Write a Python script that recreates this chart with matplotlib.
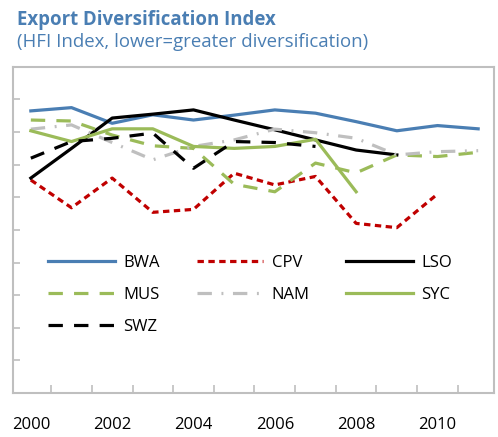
import numpy as np
import matplotlib.pyplot as plt

years = list(range(2000, 2012))
year_labels = ['2000', '', '2002', '', '2004', '', '2006', '', '2008', '', '2010', '']

# HFI index (None = no data)
bwa = [0.865, 0.875, 0.827, 0.853, 0.837, 0.852, 0.868, 0.858, 0.832, 0.804, 0.820, 0.810]
cpv = [0.653, 0.568, 0.659, 0.554, 0.563, 0.674, 0.638, 0.664, 0.520, 0.507, 0.610, None]
lso = [0.659, 0.750, 0.843, 0.855, 0.868, 0.837, 0.807, 0.776, 0.745, 0.730, None, None]
mus = [0.837, 0.834, 0.791, 0.758, 0.750, 0.640, 0.617, 0.705, 0.675, 0.730, 0.725, 0.738]
nam = [0.809, 0.822, 0.768, 0.715, 0.756, 0.776, 0.809, 0.798, 0.781, 0.730, 0.740, 0.743]
syc = [0.804, 0.771, 0.810, 0.810, 0.756, 0.750, 0.756, 0.778, 0.617, None, None, None]
swz = [0.720, 0.771, 0.781, 0.797, 0.689, 0.771, 0.768, 0.756, None, None, None, None]

blue = '#4a7eb3'
green = '#9bbb59'

plt.rcParams['font.family'] = ['Open Sans', 'DejaVu Sans']

fig = plt.figure(figsize=(4.98, 4.37), dpi=100)
ax = fig.add_axes([0.026, 0.1007, 0.966, 0.7463])

x = np.arange(len(years))


def arr(v):
    return np.array([np.nan if a is None else a for a in v], dtype=float)


lw = 2.3
lines = {}
lines['BWA'], = ax.plot(x, arr(bwa), color=blue, lw=lw, label='BWA')
lines['CPV'], = ax.plot(x, arr(cpv), color='#c00000', lw=lw, dashes=(2.0, 1.4), label='CPV')
lines['LSO'], = ax.plot(x, arr(lso), color='black', lw=lw, label='LSO')
lines['MUS'], = ax.plot(x, arr(mus), color=green, lw=lw, dashes=(4.5, 3.5), label='MUS')
lines['NAM'], = ax.plot(x, arr(nam), color='#bfbfbf', lw=lw, dashes=(4.5, 3, 0.6, 3), label='NAM')
lines['SYC'], = ax.plot(x, arr(syc), color=green, lw=lw, label='SYC')
lines['SWZ'], = ax.plot(x, arr(swz), color='black', lw=lw, dashes=(4.5, 3.5), label='SWZ')

ax.set_xlim(-0.44, 11.39)
ax.set_ylim(0, 1)

# y ticks without labels
ax.set_yticks(np.arange(0, 1.01, 0.1))
ax.set_yticklabels([])
ax.tick_params(axis='y', direction='in', length=5, width=1.2, color='#bfbfbf')

# year labels at category centres, tick marks between categories
ax.set_xticks(x)
ax.set_xticklabels(year_labels, fontsize=12)
ax.tick_params(axis='x', length=0, pad=17)
ax.set_xticks(np.arange(0.5, 11, 1), minor=True)
ax.tick_params(axis='x', which='minor', direction='in', length=6, width=1.2, color='#bfbfbf')

for s in ax.spines.values():
    s.set_color('#bfbfbf')
    s.set_linewidth(1.5)

# legend is filled column by column, so order for row-wise reading
order = ['BWA', 'MUS', 'SWZ', 'CPV', 'NAM', 'LSO', 'SYC']
ax.legend([lines[k] for k in order], order, loc='upper left',
          bbox_to_anchor=(0.06, 0.445), ncol=3, frameon=False,
          fontsize=12, handlelength=4.0, handletextpad=0.5, columnspacing=2.2,
          labelspacing=0.98, borderaxespad=0)

fig.text(0.034, 0.955, 'Export Diversification Index', fontsize=13.4,
         fontweight='bold', color=blue, va='center')
fig.text(0.034, 0.903, '(HFI Index, lower=greater diversification)', fontsize=13.4,
         color=blue, va='center')

fig.savefig('out.png', dpi=100)
